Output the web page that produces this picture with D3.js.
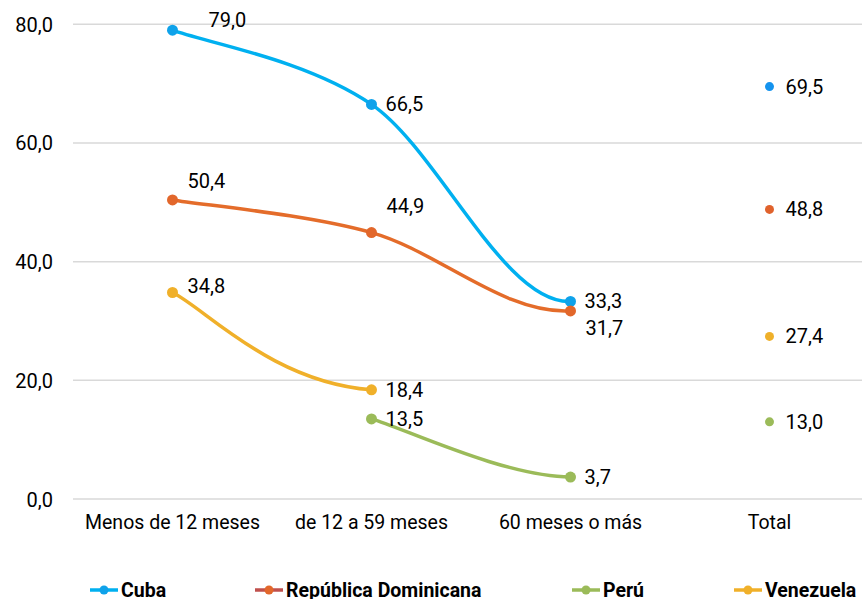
<!DOCTYPE html>
<html>
<head>
<meta charset="utf-8">
<script src="https://cdn.jsdelivr.net/npm/d3@7"></script>
<style>
  html, body { margin: 0; padding: 0; background: #fff; }
  svg { display: block; font-family: Roboto, "Noto Sans", sans-serif; }
</style>
</head>
<body>
<svg id="chart" width="862" height="599"></svg>
<script>
// Categories along the x axis
const categories = ["Menos de 12 meses", "de 12 a 59 meses", "60 meses o más", "Total"];
const yTicks = [0, 20, 40, 60, 80];

// Series values (null = no value for that group); the last value is the total
const cuba      = [79.0, 66.5, 33.3, 69.5];
const repDom    = [50.4, 44.9, 31.7, 48.8];
const peru      = [null, 13.5, 3.7, 13.0];
const venezuela = [34.8, 18.4, null, 27.4];

const seriesNames = ["Cuba", "República Dominicana", "Perú", "Venezuela"];

// Styling and label placement per series
const seriesStyle = [
  { values: cuba,      line: "#00B0F0", dot: "#0FA2EA", total: "#1593EE", legendLine: "#00B0F0",
    labels: ["aboveRight", "right", "right", "right"] },
  { values: repDom,    line: "#E46C2A", dot: "#E2672B", total: "#E0622C", legendLine: "#C0504D",
    labels: ["aboveRightNear", "above", "below", "right"] },
  { values: peru,      line: "#9BBB59", dot: "#9BBB59", total: "#9BBB59", legendLine: "#9BBB59",
    labels: [null, "right", "right", "right"] },
  { values: venezuela, line: "#F0B02A", dot: "#F0B02A", total: "#EFB02A", legendLine: "#F0B02A",
    labels: ["rightMid", "right", null, "right"] }
];

const labelOffset = {
  right:          [14, 7],
  rightMid:       [15, 0],
  aboveRight:     [36, -3],
  aboveRightNear: [15, -12],
  above:          [15, -20],
  below:          [15, 24]
};

const fmt = v => d3.format(".1f")(v).replace(".", ",");

const svg = d3.select("#chart");
const margin = { left: 73, top: 24.3 };
const plotRight = 869;
const plotBottom = 499;

const x = d3.scaleBand().domain(categories).range([margin.left, plotRight]);
const y = d3.scaleLinear().domain([0, 80]).range([plotBottom, margin.top]);
const cx = c => x(c) + x.bandwidth() / 2;

// Horizontal gridlines
svg.append("g").selectAll("line").data(yTicks).join("line")
  .attr("x1", margin.left).attr("x2", 862)
  .attr("y1", d => y(d)).attr("y2", d => y(d))
  .attr("stroke", "#D9D9D9").attr("stroke-width", 1.5);

// Y axis labels
const yAxis = d3.axisLeft(y).tickValues(yTicks).tickFormat(fmt).tickSize(0).tickPadding(20);
svg.append("g").attr("transform", `translate(${margin.left},0)`).call(yAxis)
  .call(g => g.select(".domain").remove())
  .call(g => g.selectAll("text").attr("font-size", 20).attr("fill", "#000")
    .attr("font-family", "Roboto").attr("dy", "0.35em"));

// X axis labels
const xAxis = d3.axisBottom(x).tickSize(0).tickPadding(0);
svg.append("g").attr("transform", `translate(0,${plotBottom})`).call(xAxis)
  .call(g => g.select(".domain").remove())
  .call(g => g.selectAll("text").attr("font-size", 19.5).attr("fill", "#000")
    .attr("font-family", "Roboto").attr("y", 30).attr("dy", 0));

// Smoothed lines: the spline runs through every available point of the
// series (including the total), but only the segments among the first
// three groups are stroked.
seriesStyle.forEach(s => {
  const pts = categories.map((c, i) => ({ i, x: cx(c), v: s.values[i] }))
    .filter(d => d.v != null)
    .map(d => ({ i: d.i, x: d.x, y: y(d.v) }));
  const p = d3.path();
  for (let k = 0; k < pts.length - 1; k++) {
    const a = pts[k], b = pts[k + 1];
    if (b.i > 2) continue;
    const prev = pts[Math.max(k - 1, 0)];
    const next = pts[Math.min(k + 2, pts.length - 1)];
    const c1x = a.x + (b.x - prev.x) / 6, c1y = a.y + (b.y - prev.y) / 6;
    const c2x = b.x - (next.x - a.x) / 6, c2y = b.y - (next.y - a.y) / 6;
    p.moveTo(a.x, a.y);
    p.bezierCurveTo(c1x, c1y, c2x, c2y, b.x, b.y);
  }
  svg.append("path")
    .attr("d", p.toString())
    .attr("fill", "none")
    .attr("stroke", s.line)
    .attr("stroke-width", 3.5)
    .attr("stroke-linecap", "round");
});

// Markers and value labels
seriesStyle.forEach(s => {
  const pts = categories.map((c, i) => ({ c, v: s.values[i], i, pos: s.labels[i] }))
    .filter(d => d.v != null);
  svg.append("g").selectAll("circle").data(pts).join("circle")
    .attr("cx", d => cx(d.c)).attr("cy", d => y(d.v))
    .attr("r", d => d.i === 3 ? 4.5 : 5.5)
    .attr("fill", d => d.i === 3 ? s.total : s.dot);
  svg.append("g").selectAll("text").data(pts).join("text")
    .attr("x", d => cx(d.c) + labelOffset[d.pos][0] + (d.i === 3 ? 2 : 0))
    .attr("y", d => y(d.v) + labelOffset[d.pos][1])
    .attr("font-size", 20)
    .attr("fill", "#000")
    .text(d => fmt(d.v));
});

// Legend
const legendX = [104, 269, 586, 748];
const legendY = 590;
const lg = svg.append("g");
seriesStyle.forEach((s, i) => {
  const g = lg.append("g").attr("transform", `translate(${legendX[i]},${legendY})`);
  g.append("line").attr("x1", -14).attr("x2", 14)
    .attr("stroke", s.legendLine).attr("stroke-width", 3.5);
  g.append("circle").attr("r", 4.5).attr("fill", s.dot);
  g.append("text").attr("x", 17).attr("y", 7)
    .attr("font-size", 19.5).attr("font-weight", "bold").attr("fill", "#000")
    .text(seriesNames[i]);
});
</script>
</body>
</html>
